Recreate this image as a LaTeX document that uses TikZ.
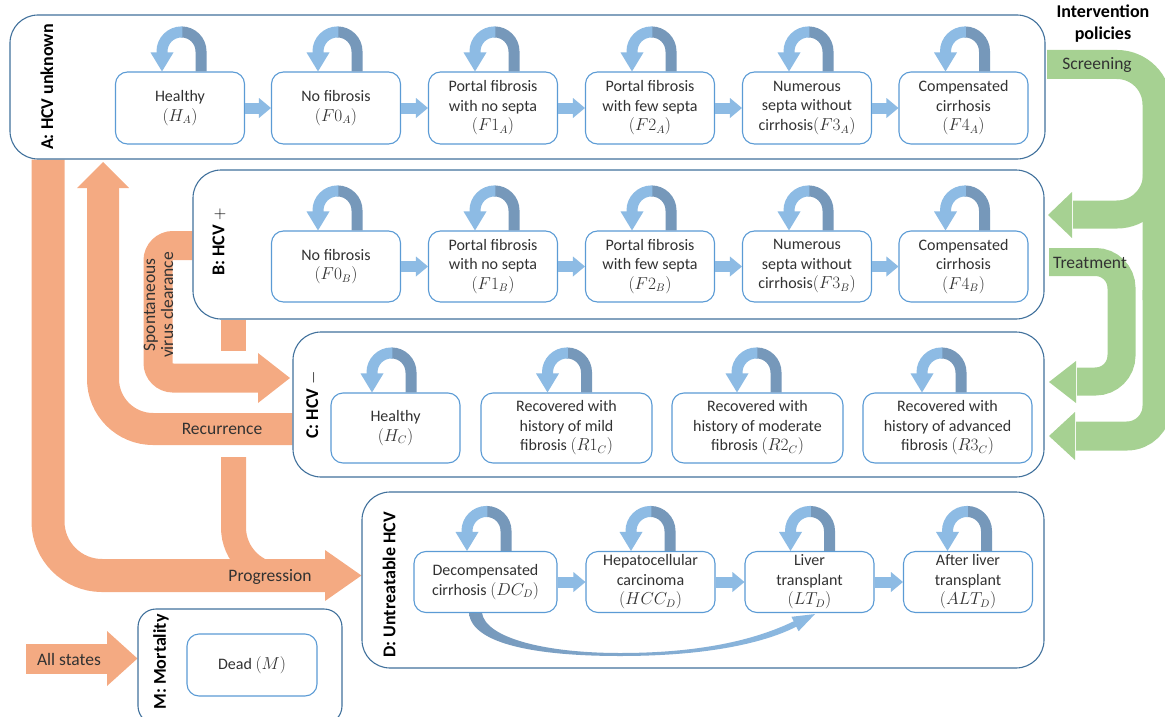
\documentclass[tikz,border=0pt]{standalone}
\usepackage{fontspec}
\setmainfont{Carlito}
\usetikzlibrary{calc,backgrounds}

\definecolor{boxblue}{RGB}{65,113,156}
\definecolor{stateblue}{RGB}{91,155,213}
\definecolor{looplight}{RGB}{141,187,228}
\definecolor{loopdark}{RGB}{118,152,186}
\definecolor{bandorange}{RGB}{244,170,130}
\definecolor{bandgreen}{RGB}{166,209,146}
\definecolor{txt}{RGB}{50,50,50}

\newcommand\statefont{\fontsize{16}{19.5}\selectfont}
\newcommand\grpfont{\fontsize{18}{22}\selectfont\bfseries}
\newcommand\bandfont{\fontsize{17.5}{18}\selectfont}

% block arrow between two neighbouring states of a row
\newcommand\nextstate[2]{%
  \draw[looplight, line width=11pt] (#1.east) -- ([xshift=-11pt]#2.west);
  \fill[looplight] ([xshift=-12pt,yshift=10pt]#2.west) -- (#2.west)
    -- ([xshift=-12pt,yshift=-10pt]#2.west) -- cycle;}

\tikzset{
  group/.style={draw=boxblue, line width=1.1pt, fill=white, rounded corners=28pt, inner sep=0pt},
  state/.style={draw=stateblue, line width=1.1pt, fill=white, rounded corners=12pt,
    inner sep=0pt, align=center, text=txt, font=\statefont},
  rowA/.style={state, minimum width=129pt, minimum height=72pt},
  rowB/.style={state, minimum width=129pt, minimum height=71pt},
  rowC/.style={state, minimum height=70pt},
  rowD/.style={state, minimum width=129pt, minimum height=61pt},
  grouplabel/.style={rotate=90, font=\grpfont, inner sep=0pt},
  bandtext/.style={text=txt, font=\bandfont, inner sep=0pt},
  orangeband/.style={draw=bandorange, line cap=butt},
  greenband/.style={draw=bandgreen, line cap=butt},
  selfloop/.pic={
    \draw[loopdark, line width=11pt] (19.5,0) -- (19.5,-20)
      .. controls (19.5,-30.8) and (10.8,-39.5) .. (0,-39.5);
    \draw[looplight, line width=11pt] (0.8,-39.5) -- (0,-39.5)
      .. controls (-10.8,-39.5) and (-19.5,-30.8) .. (-19.5,-20) -- (-19.5,-18);
    \fill[looplight] (-31,-19) -- (-8,-19) -- (-19.5,0) -- cycle;
  },
}

\begin{document}
\begin{tikzpicture}[x=1pt, y=-1pt]
\useasboundingbox (0,0) rectangle (1165,717);

% ---------- groups of states ----------
\node[group, minimum width=1035pt, minimum height=144pt] (A) at (527.5,87) {};
\node[group, minimum width=851pt, minimum height=149pt] (B) at (618.5,244.5) {};
\node[group, minimum width=751pt, minimum height=145pt] (C) at (668.5,404.5) {};
\node[group, minimum width=682pt, minimum height=176pt] (D) at (703,580) {};
\node[group, rounded corners=18pt, minimum width=204pt, minimum height=115pt] (M) at (240,666.5) {};

\node[grouplabel] (Alab) at (47,87) {A: HCV unknown};
\node[grouplabel] (Blab) at (219,242) {B: HCV $+$};
\node[grouplabel] (Clab) at (313,405) {C: HCV $-$};
\node[grouplabel] (Dlab) at (389,585) {D: Untreatable HCV};
\node[grouplabel] (Mlab) at (161,662) {M: Mortality};

\node[font=\grpfont, align=center, inner sep=0pt] (pol) at (1103,24) {Intervention\\policies};

% ---------- A: HCV unknown ----------
\node[rowA] (ha)  at (180,108)   {Healthy\\$(H_A)$};
\node[rowA] (f0a) at (336,108)   {No fibrosis\\$(F0_A)$};
\node[rowA] (f1a) at (493,108)   {Portal fibrosis\\with no septa\\$(F1_A)$};
\node[rowA] (f2a) at (650,108)   {Portal fibrosis\\with few septa\\$(F2_A)$};
\node[rowA] (f3a) at (807,108)   {Numerous\\septa without\\cirrhosis$(F3_A)$};
\node[rowA] (f4a) at (963.5,108) {Compensated\\cirrhosis\\$(F4_A)$};

% ---------- B: HCV + ----------
\node[rowB] (f0b) at (336,266.5)   {No fibrosis\\$(F0_B)$};
\node[rowB] (f1b) at (493,266.5)   {Portal fibrosis\\with no septa\\$(F1_B)$};
\node[rowB] (f2b) at (650,266.5)   {Portal fibrosis\\with few septa\\$(F2_B)$};
\node[rowB] (f3b) at (807,266.5)   {Numerous\\septa without\\cirrhosis$(F3_B)$};
\node[rowB] (f4b) at (963.5,266.5) {Compensated\\cirrhosis\\$(F4_B)$};

% ---------- C: HCV - ----------
\node[rowC, minimum width=129pt] (hc)  at (395.5,428) {Healthy\\$(H_C)$};
\node[rowC, minimum width=171pt] (r1c) at (566.5,428) {Recovered with\\history of mild\\fibrosis $(R1_C)$};
\node[rowC, minimum width=171pt] (r2c) at (757.5,428) {Recovered with\\history of moderate\\fibrosis $(R2_C)$};
\node[rowC, minimum width=169pt] (r3c) at (947.5,428) {Recovered with\\history of advanced\\fibrosis $(R3_C)$};

% ---------- D: Untreatable HCV ----------
\node[rowD, minimum width=143pt] (dcd) at (485.5,582) {Decompensated\\cirrhosis $(DC_D)$};
\node[rowD] (hccd) at (650.5,582) {Hepatocellular\\carcinoma\\$(HCC_D)$};
\node[rowD] (ltd)  at (809.5,582) {Liver\\transplant\\$(LT_D)$};
\node[rowD] (altd) at (968,582)   {After liver\\transplant\\$(ALT_D)$};

% ---------- M: Mortality ----------
\node[state, minimum width=130pt, minimum height=62pt] (dead) at (252,665) {Dead $(M)$};

% ---------- staying in the same state ----------
\foreach \s in {ha,f0a,f1a,f2a,f3a,f4a,f0b,f1b,f2b,f3b,f4b}
  \pic at ([xshift=1.5pt]\s.north) {selfloop};
\pic at ([xshift=-4pt]hc.north) {selfloop};
\pic at ([xshift=0.5pt]r1c.north) {selfloop};
\pic at ([xshift=-1pt]r2c.north) {selfloop};
\pic at ([xshift=-6pt]r3c.north) {selfloop};
\pic at ([xshift=1pt]dcd.north) {selfloop};
\pic at (hccd.north) {selfloop};
\pic at ([xshift=0.5pt]ltd.north) {selfloop};
\pic at ([xshift=-1pt]altd.north) {selfloop};

% ---------- progression inside the rows ----------
\nextstate{ha}{f0a}
\nextstate{f0a}{f1a}
\nextstate{f1a}{f2a}
\nextstate{f2a}{f3a}
\nextstate{f3a}{f4a}
\nextstate{f0b}{f1b}
\nextstate{f1b}{f2b}
\nextstate{f2b}{f3b}
\nextstate{f3b}{f4b}
\nextstate{dcd}{hccd}
\nextstate{hccd}{ltd}
\nextstate{ltd}{altd}

% decompensated cirrhosis straight to liver transplant
\coordinate (dcOut) at ([xshift=-16.5pt]dcd.south);
\coordinate (dcIn)  at ([xshift=-3.5pt]dcd.south);
\coordinate (ltTip) at ([xshift=5.5pt,yshift=-1pt]ltd.south);
\shade[left color=loopdark, middle color=looplight!45!white, right color=looplight]
  (dcIn) .. controls (486,638) and (545,653) .. (620,653)
  .. controls (700,653) and (755,640) .. (793.7,621.3)
  -- (791.4,616.8) -- (ltTip) -- (798.6,631.2) -- (796.3,626.7)
  .. controls (760,645) and (700,656) .. (620,656)
  .. controls (540,656) and (472,645) .. (dcOut) -- cycle;

% ---------- labels on the wide arrows ----------
\node[bandtext] (recT)  at (222,429)  {Recurrence};
\node[bandtext] (progT) at (270,577)  {Progression};
\node[bandtext] (allT)  at (69,659)   {All states};
\node[bandtext] (scrT)  at (1097,65)  {Screening};
\node[bandtext] (treT)  at (1090,263) {Treatment};
\node[bandtext, rotate=90, align=center] (spoT) at (158.5,305) {Spontaneous\\virus clearance};

% ---------- wide arrows between groups ----------
\begin{pgfonlayer}{background}
  % progression from A to D
  \draw[orangeband, line width=33pt, rounded corners=54pt]
    (A.south -| 48,0) -- (48,575.5) -- (326,575.5);
  \fill[bandorange] (325,550) -- (D.west |- 0,575.5) -- (325,601) -- cycle;
  % progression from B, joining the one from A
  \draw[orangeband, line width=25pt] (B.south -| 233.5,0) -- (233.5,351);
  \draw[orangeband, line width=25pt, rounded corners=48pt]
    (233.5,457) -- (233.5,575.5) -- (320,575.5);
  % recurrence from C back to A
  \draw[orangeband, line width=32pt, rounded corners=50pt]
    (C.west |- 0,429) -- (103,429) -- (103,187);
  \fill[bandorange] (77,188) -- (103,162) -- (129,188) -- cycle;
  % spontaneous clearance from B to C
  \draw[orangeband, line width=29pt, rounded corners=15pt]
    (B.west |- 0,245.5) -- (158,245.5) -- (158,378) -- (259,378);
  \fill[bandorange] (258,353) -- (290,378) -- (258,403) -- cycle;
  % mortality from every state
  \draw[orangeband, line width=30pt] (26,658.5) -- (108,658.5);
  \fill[bandorange] (107,631) -- (M.west |- 0,658.5) -- (107,686) -- cycle;

  % screening: to B and to C
  \draw[greenband, line width=29pt, rounded corners=40pt]
    (1047,64.5) -- (1157,64.5) -- (1157,300);
  \draw[greenband, line width=29pt, rounded corners=30pt]
    (1157,290) -- (1157,436) -- (1076,436);
  \fill[bandgreen] (1075,412) -- (1049,436) -- (1075,460) -- cycle;
  \draw[greenband, line width=28pt, rounded corners=40pt]
    (1157,140) -- (1157,214.5) -- (1073,214.5);
  \fill[bandgreen] (1072,192) -- (1048,215) -- (1072,238) -- cycle;
  % treatment: from B to C
  \draw[greenband, line width=28pt, rounded corners=26pt]
    (1049,262) -- (1121.5,262) -- (1121.5,381.5) -- (1077,381.5);
  \fill[bandgreen] (1076,361) -- (1049,382) -- (1076,403) -- cycle;
\end{pgfonlayer}
\end{tikzpicture}
\end{document}
